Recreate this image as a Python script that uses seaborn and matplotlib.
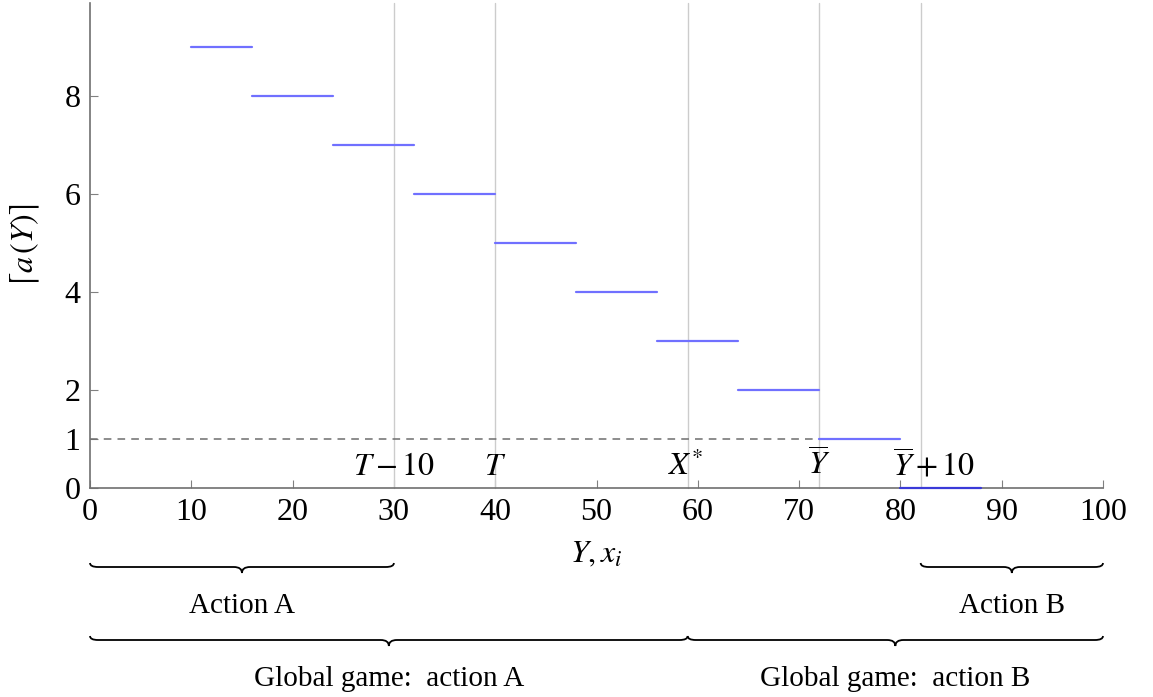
import numpy as np
import pandas as pd
import matplotlib
matplotlib.use("Agg")
import matplotlib.pyplot as plt
import matplotlib.transforms as mtransforms
from matplotlib.path import Path
from matplotlib.patches import PathPatch
import seaborn as sns

# step segments of ceil(a(Y))
seg_start = [10, 16, 24, 32, 40, 48, 56, 64, 72, 80]
seg_end = [16, 24, 32, 40, 48, 56, 64, 72, 80, 88]
seg_value = [9, 8, 7, 6, 5, 4, 3, 2, 1, 0]

# marked points on the Y axis
mark_x = [30, 40, 59, 72, 82]
mark_labels = [r"$T-10$", r"$T$", r"$X^{*}$", r"$\overline{Y}$", r"$\overline{Y}+10$"]
mark_label_x = [30, 40, 58.8, 72, 83.3]

# braces: (start, end, label)
brace_top = [(0, 30, "Action A"), (82, 100, "Action B")]
brace_bottom = [(0, 59, "Global game:  action A"), (59, 100, "Global game:  action B")]

xticks = [0, 10, 20, 30, 40, 50, 60, 70, 80, 90, 100]
yticks = [0, 1, 2, 4, 6, 8]

sns.set_theme(style="ticks")
plt.rcParams["font.family"] = ["Liberation Serif", "DejaVu Serif"]
plt.rcParams["mathtext.fontset"] = "stix"
plt.rcParams["text.color"] = "black"
plt.rcParams["axes.labelcolor"] = "black"
FS = 23

rows = []
for i, (a, b, v) in enumerate(zip(seg_start, seg_end, seg_value)):
    rows.append({"Y": a, "val": v, "seg": i})
    rows.append({"Y": b, "val": v, "seg": i})
df = pd.DataFrame(rows)

fig = plt.figure(figsize=(11.53, 6.97), dpi=100)
ax = fig.add_axes([90 / 1153, 1 - 488 / 697, 1013 / 1153, 485 / 697])

for xv in mark_x:
    ax.axvline(xv, color="#cccccc", lw=1.0, zorder=1)

ax.hlines(1, 0, 72, colors="#6e6e6e", linestyles=(0, (5, 4)), lw=1.1, zorder=2)

sns.lineplot(data=df, x="Y", y="val", units="seg", estimator=None,
             color="#7070ff", lw=1.6, ax=ax, zorder=5)
for ln in ax.get_lines():
    ln.set_clip_on(False)
ax.get_lines()[-1].set_color("#3a3ad8")

for lx, lab in zip(mark_label_x, mark_labels):
    ax.text(lx, 0.12, lab, ha="center", va="bottom", fontsize=FS, color="black")

ax.set_xlim(0, 100)
ax.set_ylim(0, 9.9)
ax.set_xticks(xticks)
ax.set_yticks(yticks)
ax.tick_params(direction="in", length=6, width=0.8, color="#808080",
               labelsize=FS, labelcolor="black", pad=7)
for s in ["top", "right"]:
    ax.spines[s].set_visible(False)
for s in ["left", "bottom"]:
    ax.spines[s].set_color("#707070")
    ax.spines[s].set_linewidth(1.2)

ax.set_xlabel(r"$Y, x_i$", fontsize=FS, labelpad=10)
ax.set_ylabel(r"$\lceil a\,(Y)\rceil$", fontsize=FS, labelpad=16)

trans = mtransforms.blended_transform_factory(ax.transData, fig.transFigure)


def brace(x0, x1, py_end, py_body, py_tip):
    ye = 1 - py_end / 697
    yb = 1 - py_body / 697
    yt = 1 - py_tip / 697
    xm = (x0 + x1) / 2
    r = 0.8
    verts = [(x0, ye), (x0, yb), (x0 + r, yb),
             (xm - r, yb), (xm, yb), (xm, yt),
             (xm, yb), (xm + r, yb),
             (x1 - r, yb), (x1, yb), (x1, ye)]
    codes = [Path.MOVETO, Path.CURVE3, Path.CURVE3,
             Path.LINETO, Path.CURVE3, Path.CURVE3,
             Path.CURVE3, Path.CURVE3,
             Path.LINETO, Path.CURVE3, Path.CURVE3]
    p = PathPatch(Path(verts, codes), transform=trans, fill=False,
                  lw=1.3, color="black", clip_on=False)
    fig.add_artist(p)


for a, b, lab in brace_top:
    brace(a, b, 563, 567, 573)
    fig.text((a + b) / 2, 1 - 606 / 697, lab, transform=trans,
             ha="center", va="center", fontsize=21, color="black")
for a, b, lab in brace_bottom:
    brace(a, b, 636, 640, 646)
    fig.text((a + b) / 2, 1 - 679 / 697, lab, transform=trans,
             ha="center", va="center", fontsize=21, color="black")

fig.savefig("out.png", dpi=100)
